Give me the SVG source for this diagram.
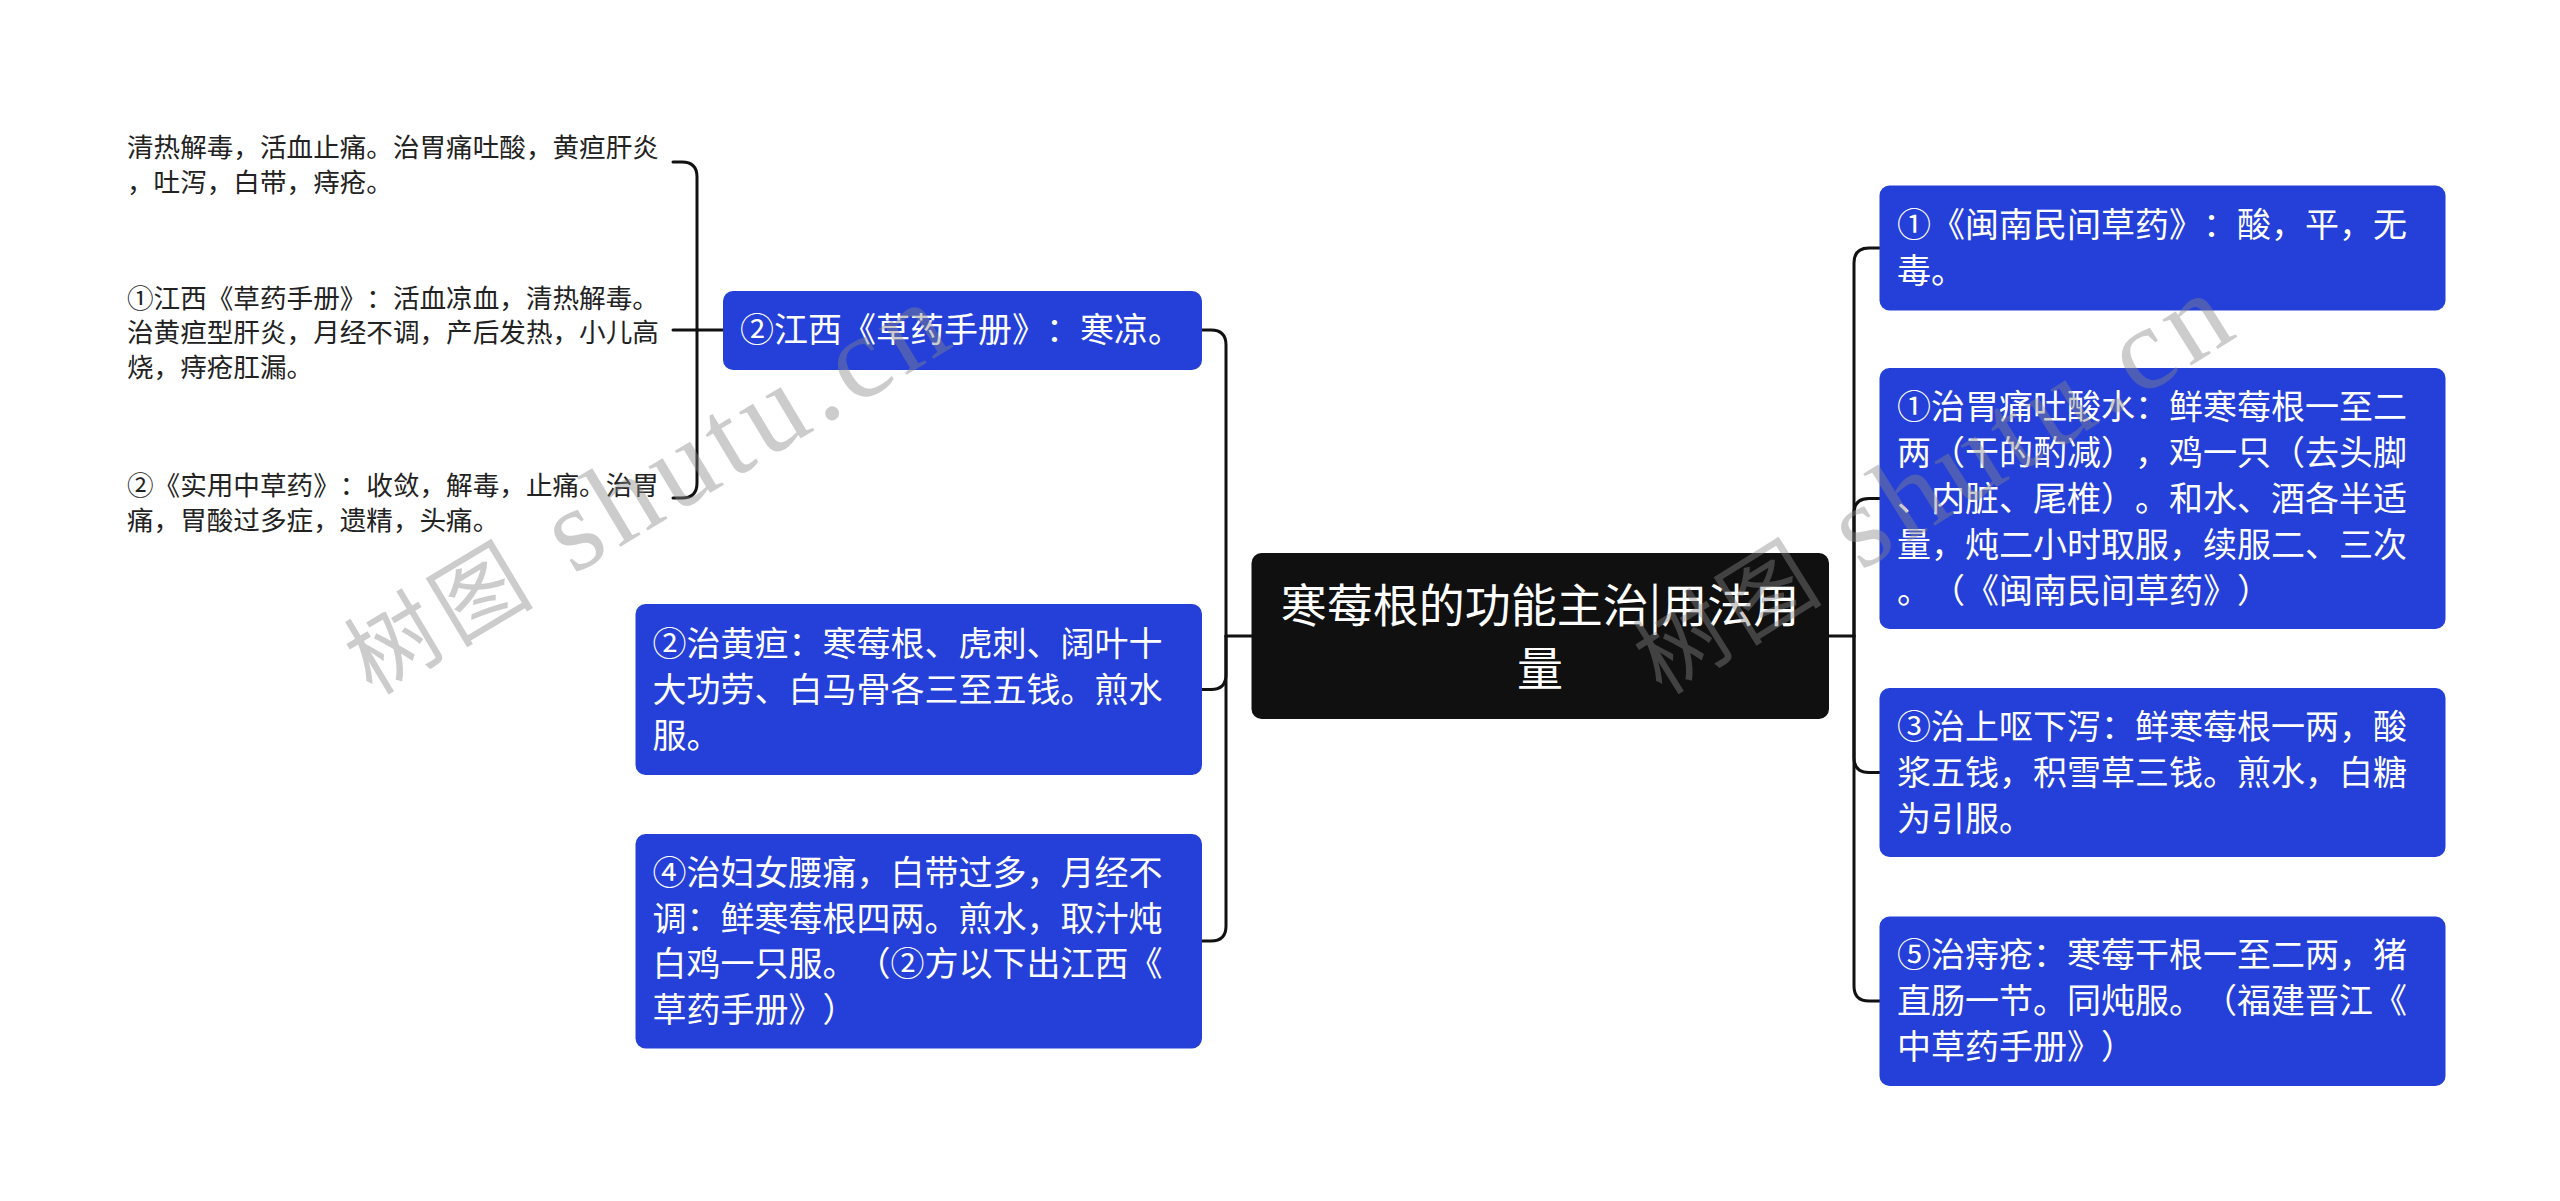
<svg xmlns="http://www.w3.org/2000/svg" width="2560" height="1201" viewBox="0 0 2560 1201">
<style>
.bg{fill:#ffffff}
.node{fill:#2540d8}
.root{fill:#101010}
.conn path{fill:none;stroke:#111111;stroke-width:3;stroke-linecap:round;stroke-linejoin:round}
text{text-spacing-trim:space-all}
.t{font-family:"Noto Sans CJK SC","Noto Sans",sans-serif;fill:#ffffff;font-size:34px}
.rt{font-family:"Noto Sans CJK SC","Noto Sans",sans-serif;fill:#ffffff;font-size:46px;text-anchor:middle}
.lf{font-family:"Noto Sans CJK SC","Noto Sans",sans-serif;fill:#222222;font-size:26.6px}
.wm{font-family:"Liberation Serif","Noto Sans CJK SC",serif;fill:#888888;opacity:0.42}
</style>
<rect class="bg" x="0" y="0" width="2560" height="1201"/>

<g id="connectors" class="conn">
  <path d="M1829 636 H1854"/>
  <path d="M1854 636 V263 Q1854 248 1869 248 H1880"/>
  <path d="M1854 636 V513.5 Q1854 498.5 1869 498.5 H1880"/>
  <path d="M1854 636 V757.5 Q1854 772.5 1869 772.5 H1880"/>
  <path d="M1854 636 V986 Q1854 1001 1869 1001 H1880"/>
  <path d="M1252 636 H1226"/>
  <path d="M1226 636 V345 Q1226 330 1211 330 H1202"/>
  <path d="M1226 636 V674.5 Q1226 689.5 1211 689.5 H1202"/>
  <path d="M1226 636 V926 Q1226 941 1211 941 H1202"/>
  <path d="M723 330 H697"/>
  <path d="M697 330 V177 Q697 162 682 162 H673"/>
  <path d="M697 330 H673"/>
  <path d="M697 330 V483 Q697 498 682 498 H673"/>
</g>

<g id="root">
  <rect class="root" x="1251.5" y="553" width="577.5" height="166" rx="10"/>
  <text class="rt" x="1540" y="622">寒莓根的功能主治|用法用</text>
  <text class="rt" x="1540" y="684.5">量</text>
</g>

<g id="n-jiangxi">
  <rect class="node" x="723" y="291" width="479" height="79" rx="10"/>
  <text class="t" x="740" y="342">②江西《草药手册》：寒凉。</text>
</g>
<g id="leaf-1">
  <text class="lf" x="127" y="157">清热解毒，活血止痛。治胃痛吐酸，黄疸肝炎</text>
  <text class="lf" x="127" y="191.5">，吐泻，白带，痔疮。</text>
</g>
<g id="leaf-2">
  <text class="lf" x="127" y="307.5">①江西《草药手册》：活血凉血，清热解毒。</text>
  <text class="lf" x="127" y="342">治黄疸型肝炎，月经不调，产后发热，小儿高</text>
  <text class="lf" x="127" y="376.5">烧，痔疮肛漏。</text>
</g>
<g id="leaf-3">
  <text class="lf" x="127" y="495">②《实用中草药》：收敛，解毒，止痛。治胃</text>
  <text class="lf" x="127" y="529.5">痛，胃酸过多症，遗精，头痛。</text>
</g>

<g id="n-huangdan">
  <rect class="node" x="635.5" y="604" width="566.5" height="171" rx="10"/>
  <text class="t" x="652.5" y="655.5">②治黄疸：寒莓根、虎刺、阔叶十</text>
  <text class="t" x="652.5" y="701.5">大功劳、白马骨各三至五钱。煎水</text>
  <text class="t" x="652.5" y="747.5">服。</text>
</g>
<g id="n-yaotong">
  <rect class="node" x="635.5" y="834" width="566.5" height="214.5" rx="10"/>
  <text class="t" x="652.5" y="885">④治妇女腰痛，白带过多，月经不</text>
  <text class="t" x="652.5" y="930.5">调：鲜寒莓根四两。煎水，取汁炖</text>
  <text class="t" x="652.5" y="976">白鸡一只服。（②方以下出江西《</text>
  <text class="t" x="652.5" y="1021.5">草药手册》）</text>
</g>

<g id="n-minnan">
  <rect class="node" x="1879.5" y="185.5" width="566" height="125" rx="10"/>
  <text class="t" x="1897" y="237">①《闽南民间草药》：酸，平，无</text>
  <text class="t" x="1897" y="283">毒。</text>
</g>
<g id="n-weitong">
  <rect class="node" x="1879.5" y="368" width="566" height="261" rx="10"/>
  <text class="t" x="1897" y="418.5">①治胃痛吐酸水：鲜寒莓根一至二</text>
  <text class="t" x="1897" y="464.5">两（干的酌减），鸡一只（去头脚</text>
  <text class="t" x="1897" y="510.5">、内脏、尾椎）。和水、酒各半适</text>
  <text class="t" x="1897" y="556.5">量，炖二小时取服，续服二、三次</text>
  <text class="t" x="1897" y="602.5">。（《闽南民间草药》）</text>
</g>
<g id="n-outu">
  <rect class="node" x="1879.5" y="688" width="566" height="169" rx="10"/>
  <text class="t" x="1897" y="738.5">③治上呕下泻：鲜寒莓根一两，酸</text>
  <text class="t" x="1897" y="784.5">浆五钱，积雪草三钱。煎水，白糖</text>
  <text class="t" x="1897" y="830.5">为引服。</text>
</g>
<g id="n-zhichuang">
  <rect class="node" x="1879.5" y="916.5" width="566" height="169.5" rx="10"/>
  <text class="t" x="1897" y="967">⑤治痔疮：寒莓干根一至二两，猪</text>
  <text class="t" x="1897" y="1013">直肠一节。同炖服。（福建晋江《</text>
  <text class="t" x="1897" y="1059">中草药手册》）</text>
</g>

<g id="watermarks">
  <text class="wm" x="372" y="696" transform="rotate(-31 372 696)" textLength="680" lengthAdjust="spacing"><tspan font-size="92">树图</tspan><tspan font-size="118"> shutu.cn</tspan></text>
  <text class="wm" x="1662" y="696" transform="rotate(-32 1662 696)" textLength="680" lengthAdjust="spacing"><tspan font-size="92">树图</tspan><tspan font-size="118"> shutu.cn</tspan></text>
</g>
</svg>
